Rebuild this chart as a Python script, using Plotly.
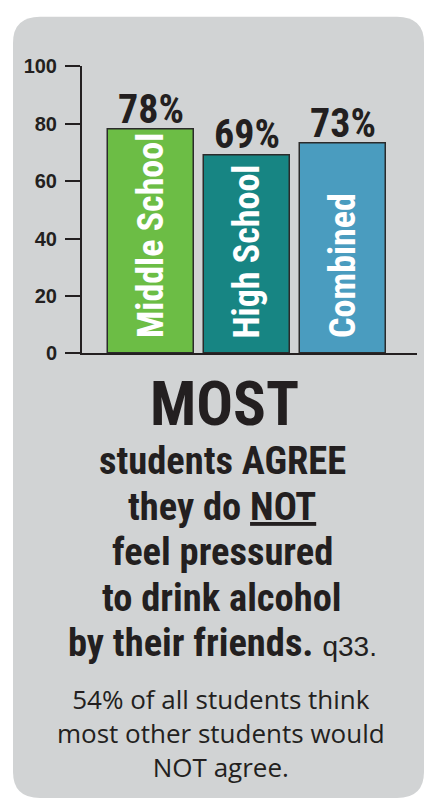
import plotly.graph_objects as go

# Survey results: share of students who say they do NOT feel pressured to drink
groups = ["Middle School", "High School", "Combined"]
percent = [78, 69, 73]
bar_colors = ["#6cbd45", "#178583", "#4a9cbf"]
y_ticks = [0, 20, 40, 60, 80, 100]

headline = "MOST"
statement = [
    "students AGREE",
    "they do <u>NOT</u>",
    "feel pressured",
    "to drink alcohol",
    "by their friends.",
]
question_ref = "q33."
footnote = ["54% of all students think", "most other students would", "NOT agree."]

W, H = 426, 805
INK = "#231f20"
PANEL = "#d1d3d4"
CONDENSED = "Roboto Condensed, DejaVu Sans Condensed, sans-serif"


def px(x):
    return x / W


def py(y):
    return 1 - y / H


fig = go.Figure()

fig.add_trace(go.Bar(
    x=groups,
    y=percent,
    width=0.9,
    marker=dict(color=bar_colors, line=dict(color="#2b2b2b", width=1.5)),
    hoverinfo="skip",
))

# rounded grey card behind everything
x0, x1, y0, y1, r = 13, 424, 6, 809, 27
path = (
    f"M {px(x0 + r)} {py(y0)} L {px(x1 - r)} {py(y0)} "
    f"Q {px(x1)} {py(y0)} {px(x1)} {py(y0 + r)} "
    f"L {px(x1)} {py(y1 - r)} Q {px(x1)} {py(y1)} {px(x1 - r)} {py(y1)} "
    f"L {px(x0 + r)} {py(y1)} Q {px(x0)} {py(y1)} {px(x0)} {py(y1 - r)} "
    f"L {px(x0)} {py(y0 + r)} Q {px(x0)} {py(y0)} {px(x0 + r)} {py(y0)} Z"
)
fig.add_shape(type="path", path=path, xref="paper", yref="paper",
              fillcolor=PANEL, line=dict(width=0), layer="below")

annotations = []
# value labels above each bar
for g, v in zip(groups, percent):
    annotations.append(dict(
        x=g, y=v, xref="x", yref="y", text=f"{v}%", showarrow=False,
        yanchor="bottom", yshift=-5,
        font=dict(family=CONDENSED, size=40, color=INK, weight="bold"),
    ))
# group names written up the bars
for g in groups:
    annotations.append(dict(
        x=g, y=0, xref="x", yref="y", text=g, showarrow=False,
        textangle=-90, yanchor="bottom", yshift=13,
        font=dict(family=CONDENSED, size=36, color="white", weight="bold"),
    ))

annotations.append(dict(
    x=px(224), y=py(425 - 20.5), xref="paper", yref="paper", text=headline,
    showarrow=False, xanchor="center", yanchor="middle", borderpad=0,
    font=dict(family=CONDENSED, size=61, color=INK, weight="bold"),
))

baselines = [476, 523, 569, 616, 663]
for i, (line, base) in enumerate(zip(statement, baselines)):
    txt = line
    if i == len(statement) - 1:
        txt = (line + ' <span style="font-family:Liberation Sans, Arial, sans-serif;'
               f'font-weight:normal;font-size:28px">{question_ref}</span>')
    annotations.append(dict(
        x=px(222), y=py(base - 13.5), xref="paper", yref="paper", text=txt,
        showarrow=False, xanchor="center", yanchor="middle", borderpad=0,
        font=dict(family=CONDENSED, size=38.5, color=INK, weight="bold"),
    ))

annotations.append(dict(
    x=px(221), y=py(742), xref="paper", yref="paper", text="<br>".join(footnote),
    showarrow=False, xanchor="center", yanchor="middle", align="center",
    font=dict(family="Open Sans, Noto Sans, sans-serif", size=26, color=INK),
))

fig.update_layout(
    width=W, height=H,
    margin=dict(l=0, r=0, t=0, b=0),
    paper_bgcolor="white",
    plot_bgcolor="rgba(0,0,0,0)",
    showlegend=False,
    bargap=0,
    annotations=annotations,
    xaxis=dict(
        domain=[px(82), px(417)],
        range=[-0.72, 2.77],
        showticklabels=False, ticks="",
        showline=True, linecolor=INK, linewidth=2,
        showgrid=False, zeroline=False, fixedrange=True,
    ),
    yaxis=dict(
        domain=[py(352), py(57)],
        range=[0, 100],
        tickvals=y_ticks,
        ticks="outside", ticklen=15, tickwidth=2, tickcolor=INK,
        ticklabelstandoff=4,
        tickfont=dict(family="Liberation Sans, Arial, sans-serif", size=20,
                      color=INK, weight="bold"),
        showline=True, linecolor=INK, linewidth=2,
        showgrid=False, zeroline=False, fixedrange=True,
    ),
)

fig.write_html("out.html", config={"displayModeBar": False})
